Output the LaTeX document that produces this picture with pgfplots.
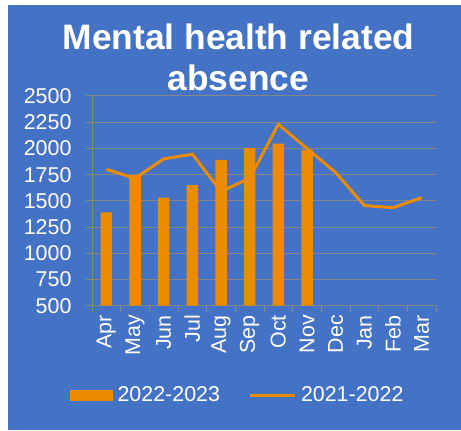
\documentclass[border=0pt]{standalone}
\usepackage{fontspec}
\setmainfont{Liberation Sans}
\usepackage{pgfplots}
\pgfplotsset{compat=1.18}
\definecolor{bgblue}{RGB}{68,114,196}
\definecolor{barorange}{RGB}{235,139,0}
\definecolor{gridgray}{RGB}{134,134,134}
\begin{document}
\begin{tikzpicture}[x=1bp,y=1bp]
\fill[white] (0,0) rectangle (461,430);
\fill[bgblue] (8,0) rectangle (461,425);
\node[anchor=base, inner sep=0pt, font=\fontsize{35.5}{40}\selectfont\bfseries, text=white] at (238.5,381) {Mental health related};
\node[anchor=base, inner sep=0pt, font=\fontsize{35.5}{40}\selectfont\bfseries, text=white] at (238.5,340) {absence};
\begin{axis}[
  at={(92bp,124.3bp)}, anchor=south west, scale only axis,
  width=344bp, height=209.7bp,
  xmin=-0.5, xmax=11.5, ymin=500, ymax=2500,
  ytick={500,750,...,2500},
  xtick={0,...,11},
  xticklabels={Apr,May,Jun,Jul,Aug,Sep,Oct,Nov,Dec,Jan,Feb,Mar},
  minor xtick={-0.5,0.5,...,11.5},
  axis x line=bottom, axis y line=left,
  axis line style={gridgray, line width=1bp, -},
  ymajorgrids, major grid style={gridgray, line width=1bp},
  tick align=outside, major tick length=6bp, minor tick length=6bp,
  major x tick style={draw=none},
  minor x tick style={gridgray, line width=1bp},
  major y tick style={gridgray, line width=1bp},
  ticklabel style={font=\fontsize{21.5}{24}\selectfont, text=white},
  /pgf/number format/1000 sep={}, /pgf/number format/assume math mode=true,
  xticklabel style={rotate=90, anchor=east},
  yticklabel style={xshift=-11bp},
  legend style={at={(0.423,-0.426)}, anchor=center, legend columns=2, draw=none, fill=none,
    text=white, font=\fontsize{21.5}{24}\selectfont,
    /tikz/every odd column/.append style={column sep=3bp},
    /tikz/every even column/.append style={column sep=26bp}},
  clip=true,
]
\addplot[ybar, bar width=11.5bp, fill=barorange, draw=none,
  legend image code/.code={\fill[barorange] (0bp,-5.5bp) rectangle (43bp,5.5bp);}]
  coordinates {(0,1390) (1,1745) (2,1530) (3,1650) (4,1890) (5,2005) (6,2045) (7,1985)};
\addlegendentry{2022-2023}
\addplot[barorange, line width=3bp, mark=none,
  legend image code/.code={\draw[barorange, line width=3bp] (0bp,0bp) -- (45bp,0bp);}]
  coordinates {(0,1800) (1,1715) (2,1900) (3,1945) (4,1590) (5,1715) (6,2230) (7,2000) (8,1770) (9,1455) (10,1435) (11,1530)};
\addlegendentry{2021-2022}
\end{axis}
\end{tikzpicture}
\end{document}
